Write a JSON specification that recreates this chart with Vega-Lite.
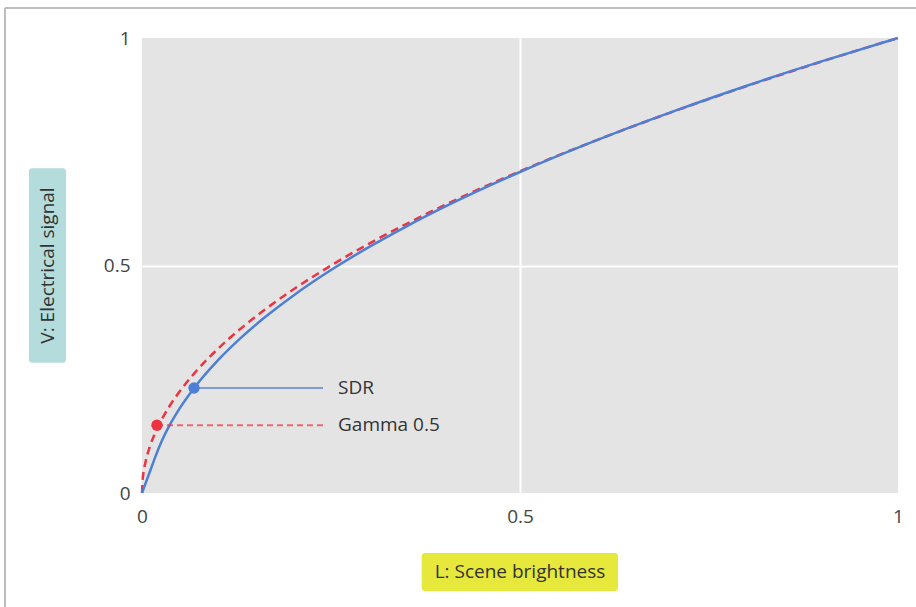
{
  "$schema": "https://vega.github.io/schema/vega-lite/v6.json",
  "width": 756,
  "height": 455,
  "autosize": {"type": "none"},
  "padding": {"left": 142, "top": 38, "right": 18, "bottom": 114},
  "background": "white",
  "config": {
    "view": {"fill": "#e4e4e4", "stroke": null},
    "font": "Open Sans",
    "axis": {"domain": false, "ticks": false, "labelFont": "Open Sans", "labelFontSize": 19, "labelColor": "#444444", "title": null, "labelFlush": false}
  },
  "datasets": {
    "curves": [
      {"L": 0, "V": 0, "series": "Gamma 0.5"},
      {"L": 0.001, "V": 0.0316, "series": "Gamma 0.5"},
      {"L": 0.002, "V": 0.0447, "series": "Gamma 0.5"},
      {"L": 0.005, "V": 0.0707, "series": "Gamma 0.5"},
      {"L": 0.01, "V": 0.1, "series": "Gamma 0.5"},
      {"L": 0.018, "V": 0.1342, "series": "Gamma 0.5"},
      {"L": 0.025, "V": 0.1581, "series": "Gamma 0.5"},
      {"L": 0.035, "V": 0.1871, "series": "Gamma 0.5"},
      {"L": 0.05, "V": 0.2236, "series": "Gamma 0.5"},
      {"L": 0.07, "V": 0.2646, "series": "Gamma 0.5"},
      {"L": 0.1, "V": 0.3162, "series": "Gamma 0.5"},
      {"L": 0.13, "V": 0.3606, "series": "Gamma 0.5"},
      {"L": 0.16, "V": 0.4, "series": "Gamma 0.5"},
      {"L": 0.2, "V": 0.4472, "series": "Gamma 0.5"},
      {"L": 0.25, "V": 0.5, "series": "Gamma 0.5"},
      {"L": 0.3, "V": 0.5477, "series": "Gamma 0.5"},
      {"L": 0.35, "V": 0.5916, "series": "Gamma 0.5"},
      {"L": 0.4, "V": 0.6325, "series": "Gamma 0.5"},
      {"L": 0.5, "V": 0.7071, "series": "Gamma 0.5"},
      {"L": 0.6, "V": 0.7746, "series": "Gamma 0.5"},
      {"L": 0.7, "V": 0.8367, "series": "Gamma 0.5"},
      {"L": 0.8, "V": 0.8944, "series": "Gamma 0.5"},
      {"L": 0.9, "V": 0.9487, "series": "Gamma 0.5"},
      {"L": 1, "V": 1, "series": "Gamma 0.5"},
      {"L": 0, "V": 0, "series": "SDR"},
      {"L": 0.005, "V": 0.0225, "series": "SDR"},
      {"L": 0.01, "V": 0.045, "series": "SDR"},
      {"L": 0.018, "V": 0.081, "series": "SDR"},
      {"L": 0.025, "V": 0.1099, "series": "SDR"},
      {"L": 0.035, "V": 0.1441, "series": "SDR"},
      {"L": 0.05, "V": 0.1864, "series": "SDR"},
      {"L": 0.07, "V": 0.2331, "series": "SDR"},
      {"L": 0.1, "V": 0.2909, "series": "SDR"},
      {"L": 0.13, "V": 0.3398, "series": "SDR"},
      {"L": 0.16, "V": 0.3828, "series": "SDR"},
      {"L": 0.2, "V": 0.4337, "series": "SDR"},
      {"L": 0.25, "V": 0.49, "series": "SDR"},
      {"L": 0.3, "V": 0.5403, "series": "SDR"},
      {"L": 0.35, "V": 0.5862, "series": "SDR"},
      {"L": 0.4, "V": 0.6287, "series": "SDR"},
      {"L": 0.5, "V": 0.7055, "series": "SDR"},
      {"L": 0.6, "V": 0.7743, "series": "SDR"},
      {"L": 0.7, "V": 0.837, "series": "SDR"},
      {"L": 0.8, "V": 0.8951, "series": "SDR"},
      {"L": 0.9, "V": 0.9491, "series": "SDR"},
      {"L": 1, "V": 1, "series": "SDR"}
    ],
    "markers": [
      {"series": "SDR", "L": 0.0688, "V": 0.2308},
      {"series": "Gamma 0.5", "L": 0.0198, "V": 0.149}
    ]
  },
  "layer": [
    {
      "mark": {"type": "rect", "cornerRadius": 3, "color": "#b4dcdc"},
      "data": {"values": [{"box": "y"}]},
      "encoding": {
        "x": {"datum": -0.1495, "type": "quantitative", "scale": {"domain": [0, 1]}, "axis": {"values": [0, 0.5, 1], "format": "~g", "labelPadding": 14, "grid": true, "gridColor": "white", "gridWidth": 2, "gridOpacity": {"condition": {"test": "datum.value == 0.5", "value": 1}, "value": 0}}},
        "x2": {"datum": -0.1005},
        "y": {"datum": 0.714, "type": "quantitative", "scale": {"domain": [0, 1]}, "axis": {"values": [0, 0.5, 1], "format": "~g", "labelPadding": 12, "grid": true, "gridColor": "white", "gridWidth": 2, "gridOpacity": {"condition": {"test": "datum.value == 0.5", "value": 1}, "value": 0}}},
        "y2": {"datum": 0.286}
      }
    },
    {
      "mark": {"type": "rect", "cornerRadius": 3, "color": "#e6e83c"},
      "data": {"values": [{"box": "x"}]},
      "encoding": {
        "x": {"datum": 0.37, "type": "quantitative"},
        "x2": {"datum": 0.6296},
        "y": {"datum": -0.132, "type": "quantitative"},
        "y2": {"datum": -0.2154}
      }
    },
    {
      "mark": {"type": "rule", "color": "#bdbdbd", "strokeWidth": 2},
      "data": {"values": [{"edge": "top"}]},
      "encoding": {
        "x": {"datum": -0.1812, "type": "quantitative"},
        "x2": {"datum": 1.03},
        "y": {"datum": 1.066, "type": "quantitative"}
      }
    },
    {
      "mark": {"type": "rule", "color": "#bdbdbd", "strokeWidth": 2},
      "data": {"values": [{"edge": "left"}]},
      "encoding": {
        "x": {"datum": -0.1812, "type": "quantitative"},
        "y": {"datum": 1.066, "type": "quantitative"},
        "y2": {"datum": -0.26}
      }
    },
    {
      "mark": {"type": "text", "angle": 270, "align": "center", "baseline": "middle", "fontSize": 19, "color": "#333333", "font": "Open Sans"},
      "data": {"values": [{"t": "V: Electrical signal"}]},
      "encoding": {
        "x": {"datum": -0.125, "type": "quantitative"},
        "y": {"datum": 0.5, "type": "quantitative"},
        "text": {"field": "t"}
      }
    },
    {
      "mark": {"type": "text", "align": "center", "baseline": "middle", "fontSize": 19, "color": "#333333", "font": "Open Sans"},
      "data": {"values": [{"t": "L: Scene brightness"}]},
      "encoding": {
        "x": {"datum": 0.5, "type": "quantitative"},
        "y": {"datum": -0.1736, "type": "quantitative"},
        "text": {"field": "t"}
      }
    },
    {
      "data": {"name": "curves"},
      "transform": [{"filter": "datum.series == 'Gamma 0.5'"}],
      "mark": {"type": "line", "color": "#ee3340", "strokeWidth": 2.5, "strokeDash": [8, 5], "interpolate": "monotone"},
      "encoding": {
        "x": {"field": "L", "type": "quantitative"},
        "y": {"field": "V", "type": "quantitative"}
      }
    },
    {
      "data": {"name": "curves"},
      "transform": [{"filter": "datum.series == 'SDR'"}],
      "mark": {"type": "line", "color": "#4d7fd6", "strokeWidth": 2.5, "interpolate": "monotone"},
      "encoding": {
        "x": {"field": "L", "type": "quantitative"},
        "y": {"field": "V", "type": "quantitative"}
      }
    },
    {
      "data": {"name": "markers"},
      "mark": {"type": "rule", "strokeWidth": 2, "opacity": 0.7},
      "encoding": {
        "x": {"field": "L", "type": "quantitative"},
        "x2": {"datum": 0.2394},
        "y": {"field": "V", "type": "quantitative"},
        "color": {"field": "series", "type": "nominal", "scale": {"domain": ["SDR", "Gamma 0.5"], "range": ["#4d7fd6", "#ee3340"]}, "legend": null},
        "strokeDash": {"field": "series", "type": "nominal", "scale": {"domain": ["SDR", "Gamma 0.5"], "range": [[1, 0], [6, 4]]}, "legend": null}
      }
    },
    {
      "data": {"name": "markers"},
      "mark": {"type": "point", "filled": true, "opacity": 1, "size": 130},
      "encoding": {
        "x": {"field": "L", "type": "quantitative"},
        "y": {"field": "V", "type": "quantitative"},
        "color": {"field": "series", "type": "nominal", "scale": {"domain": ["SDR", "Gamma 0.5"], "range": ["#4d7fd6", "#ee3340"]}, "legend": null}
      }
    },
    {
      "data": {"name": "markers"},
      "mark": {"type": "text", "align": "left", "baseline": "middle", "fontSize": 19, "color": "#333333", "font": "Open Sans"},
      "encoding": {
        "x": {"datum": 0.2593, "type": "quantitative"},
        "y": {"field": "V", "type": "quantitative"},
        "text": {"field": "series"}
      }
    }
  ]
}
